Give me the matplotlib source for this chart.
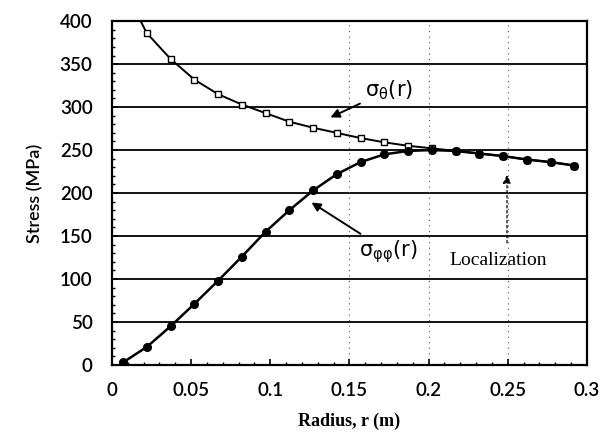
import numpy as np
import matplotlib
matplotlib.use("Agg")
import matplotlib.pyplot as plt
from matplotlib.ticker import MultipleLocator

# radius positions of the computed points (m)
radius = [0.007, 0.022, 0.037, 0.052, 0.067, 0.082, 0.097, 0.112, 0.127, 0.142,
          0.157, 0.172, 0.187, 0.202, 0.217, 0.232, 0.247, 0.262, 0.277, 0.292]

# sigma_theta (open squares), first value lies above the axis top
sigma_tt = [440, 386, 356, 332, 315, 303, 293, 283, 276, 270,
            264, 259, 255, 252, 249, 246, 243, 239, 236, 232]

# sigma_phi_phi (filled circles)
sigma_pp = [3, 21, 45, 71, 98, 126, 155, 180, 203, 222,
            236, 245, 249, 250, 249, 246, 243, 239, 236, 232]

x_ticks = [0, 0.05, 0.1, 0.15, 0.2, 0.25, 0.3]
y_ticks = [0, 50, 100, 150, 200, 250, 300, 350, 400]

fig = plt.figure(figsize=(6.07, 4.40), dpi=100)
ax = fig.add_axes([0.1845, 0.1705, 0.7825, 0.7815])

# horizontal solid grid, vertical dotted grid
for yv in y_ticks[1:-1]:
    ax.axhline(yv, color="black", lw=1.3, zorder=1)
for xv in [0.15, 0.2, 0.25]:
    ax.axvline(xv, color="#555555", lw=0.8, ls=(0, (1, 4)), zorder=1)

ax.plot(radius, sigma_tt, color="black", lw=1.4, marker="s", ms=5,
        mfc="white", mec="black", mew=1.0, zorder=3)
ax.plot(radius, sigma_pp, color="black", lw=1.8, marker="o", ms=5.5,
        mfc="black", mec="black", zorder=4)

ax.set_xlim(0, 0.3)
ax.set_ylim(0, 400)
ax.set_xticks(x_ticks)
ax.set_xticklabels(["0", "0.05", "0.1", "0.15", "0.2", "0.25", "0.3"])
ax.set_yticks(y_ticks)
ax.xaxis.set_minor_locator(MultipleLocator(0.01))
ax.yaxis.set_minor_locator(MultipleLocator(10))
ax.tick_params(which="both", direction="in", top=False, right=False)
ax.tick_params(which="major", length=4, width=1.2)
ax.tick_params(which="minor", length=2.5, width=1.0)
ax.tick_params(axis="y", pad=14)
ax.tick_params(axis="x", pad=12)
for lab in ax.get_xticklabels() + ax.get_yticklabels():
    lab.set_fontfamily("Lato")
    lab.set_fontsize(13.5)
    lab.set_fontweight("semibold")
for sp in ax.spines.values():
    sp.set_linewidth(1.6)

ax.set_xlabel("Radius, r (m)", fontfamily="Liberation Serif", fontsize=13,
              fontweight="bold", labelpad=10)
ax.set_ylabel("Stress (MPa)", fontfamily="Lato", fontsize=13,
              fontweight="semibold", labelpad=12)

# annotations
ax.annotate(r"σ$_{\mathrm{θ}}$(r)", xy=(0.138, 288), xytext=(0.160, 320),
            fontsize=15, va="center", ha="left",
            arrowprops=dict(arrowstyle="-|>", color="black", lw=1.4,
                            mutation_scale=13, shrinkA=2, shrinkB=0))
ax.annotate(r"σ$_{\mathrm{φφ}}$(r)", xy=(0.126, 189), xytext=(0.156, 132),
            fontsize=15, va="center", ha="left",
            arrowprops=dict(arrowstyle="-|>", color="black", lw=1.4,
                            mutation_scale=13, shrinkA=2, shrinkB=0))
ax.text(0.213, 122, "Localization", fontfamily="Liberation Serif",
        fontsize=14, va="center", ha="left")
ax.annotate("", xy=(0.2495, 221), xytext=(0.2495, 142),
            arrowprops=dict(arrowstyle="-|>", color="black", lw=0.9,
                            ls=(0, (2, 2)), mutation_scale=12,
                            shrinkA=0, shrinkB=0))

fig.savefig("out.png", dpi=100)
